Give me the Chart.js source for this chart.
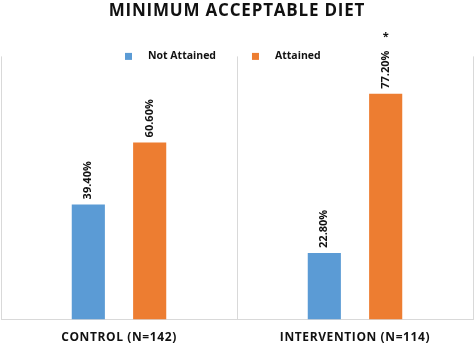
<!DOCTYPE html>
<html>
<head>
<meta charset="utf-8">
<script src="https://cdn.jsdelivr.net/npm/chart.js"></script>
<style>
  html, body { margin: 0; padding: 0; background: #fff; }
  #wrap { width: 474px; height: 344px; }
</style>
</head>
<body>
<div id="wrap"><canvas id="graf-dieta"></canvas></div>
<script>
const categories = ["CONTROL (N=142)", "INTERVENTION (N=114)"];
const notAttained = [39.4, 22.8];
const attained = [60.6, 77.2];
const significance = ["", "*"]; // marker above the Attained bar

const BLUE = "#5b9bd5";
const ORANGE = "#ed7d31";
const FONT = "'Open Sans', 'DejaVu Sans', sans-serif";

// value labels, asterisk, legend and letter spacing
const extras = {
  id: "extras",
  beforeDraw(chart) { chart.ctx.letterSpacing = "0.8px"; },
  beforeDatasetsDraw(chart) { chart.ctx.letterSpacing = "0px"; },
  afterDatasetsDraw(chart) {
    const ctx = chart.ctx;
    ctx.save();
    ctx.font = "bold 11px " + FONT;
    ctx.fillStyle = "#111";
    chart.data.datasets.forEach((ds, i) => {
      chart.getDatasetMeta(i).data.forEach((bar, j) => {
        const txt = ds.data[j].toFixed(2) + "%";
        ctx.save();
        ctx.translate(bar.x, bar.y - 5);
        ctx.rotate(-Math.PI / 2);
        ctx.textAlign = "left";
        ctx.textBaseline = "middle";
        ctx.fillText(txt, 0, 0);
        ctx.restore();
        if (i === 1 && significance[j]) {
          const w = ctx.measureText(txt).width;
          ctx.textAlign = "center";
          ctx.textBaseline = "middle";
          ctx.fillText(significance[j], bar.x, bar.y - 5 - w - 14);
        }
      });
    });
    ctx.restore();
    ctx.letterSpacing = "0.6px"; // x tick labels are drawn after this (z: 1)
  },
  afterDraw(chart) {
    const ctx = chart.ctx;
    ctx.letterSpacing = "0px";
    const area = chart.chartArea;
    let x = (area.left + area.right) / 2 - 112;
    const y = area.top;
    ctx.save();
    ctx.font = "bold 10.5px " + FONT;
    ctx.textBaseline = "middle";
    ctx.textAlign = "left";
    chart.data.datasets.forEach((ds) => {
      ctx.fillStyle = ds.backgroundColor;
      ctx.fillRect(x, y - 3.5, 7, 7);
      ctx.fillStyle = "#111";
      ctx.fillText(ds.label, x + 23, y);
      x += 23 + ctx.measureText(ds.label).width + 36;
    });
    ctx.restore();
  }
};

new Chart(document.getElementById("graf-dieta"), {
  type: "bar",
  data: {
    labels: categories,
    datasets: [
      { label: "Not Attained", data: notAttained, backgroundColor: BLUE,
        categoryPercentage: 0.52, barPercentage: 0.54 },
      { label: "Attained", data: attained, backgroundColor: ORANGE,
        categoryPercentage: 0.52, barPercentage: 0.54 }
    ]
  },
  options: {
    responsive: true,
    maintainAspectRatio: false,
    animation: false,
    layout: { padding: { left: 1, right: 1, top: 0, bottom: -12 } },
    plugins: {
      legend: { display: false },
      tooltip: { enabled: false },
      title: {
        display: true,
        text: "MINIMUM ACCEPTABLE DIET",
        color: "#111",
        font: { family: FONT, size: 17, weight: "bold" },
        padding: { top: 1, bottom: 35 }
      }
    },
    scales: {
      x: {
        grid: { color: "#d9d9d9", drawTicks: false },
        border: { color: "#d9d9d9" },
        ticks: { z: 1, color: "#111", padding: 11,
                 font: { family: FONT, size: 12, weight: "bold" } }
      },
      y: { display: false, min: 0, max: 90 }
    }
  },
  plugins: [extras]
});
</script>
</body>
</html>
